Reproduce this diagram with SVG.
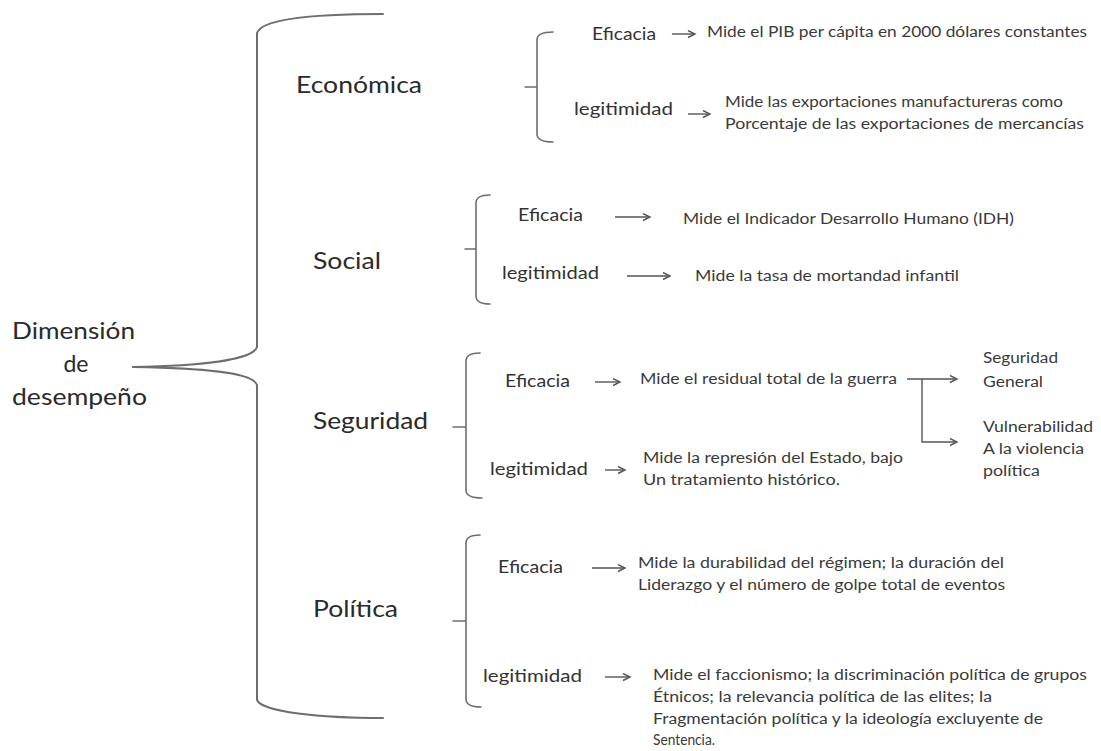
<svg xmlns="http://www.w3.org/2000/svg" width="1101" height="751" viewBox="0 0 1101 751">
<style>
text{font-family:Lato,"Open Sans","Liberation Sans",sans-serif;}
.big{font-size:23px;fill:#2a2a2a;}
.mid{font-size:18px;fill:#333;}
.sm{font-size:14.5px;fill:#3a3a3a;}
.br{fill:none;stroke:#6e6e6e;stroke-width:2;stroke-linecap:round;stroke-linejoin:round;}
.sb{fill:none;stroke:#6e6e6e;stroke-width:1.6;stroke-linecap:round;stroke-linejoin:round;}
.ar{fill:none;stroke:#555;stroke-width:1.4;marker-end:url(#ah);}
</style>
<defs>
<marker id="ah" markerUnits="userSpaceOnUse" markerWidth="10" markerHeight="10" refX="8" refY="4" orient="auto">
<path d="M1,0.5 L8,4 L1,7.5" fill="none" stroke="#555" stroke-width="1.4"/>
</marker>
</defs>
<rect width="1101" height="751" fill="#fff"/>

<g id="root">
<text class="big" x="12" y="339" textLength="123" lengthAdjust="spacingAndGlyphs">Dimensión</text>
<text class="big" x="76" y="372" text-anchor="middle">de</text>
<text class="big" x="12" y="405" textLength="135" lengthAdjust="spacingAndGlyphs">desempeño</text>
</g>

<g id="main-bracket">
<path class="br" d="M383,14 C320,14 262,18 257,33 L257,347 C253,360 200,366 133,367 C200,368 253,372 257,385 L257,700 C262,712 320,718 383,718"/>
<path class="br" d="M133,367 L165,367" stroke-width="2.6"/>
</g>

<g id="economica">
<text class="big" x="296" y="93" textLength="126" lengthAdjust="spacingAndGlyphs">Económica</text>
<path class="sb" d="M553,32 Q537,32 537,40 L537,134 Q537,142 553,142 M525,87 L537,87"/>
<text class="mid" x="592" y="40" textLength="64" lengthAdjust="spacingAndGlyphs">Eficacia</text>
<text class="mid" x="574" y="115" textLength="99" lengthAdjust="spacingAndGlyphs">legitimidad</text>
<text class="sm" x="707" y="37" textLength="380" lengthAdjust="spacingAndGlyphs">Mide el PIB per cápita en 2000 dólares constantes</text>
<text class="sm" x="725" y="107" textLength="338" lengthAdjust="spacingAndGlyphs">Mide las exportaciones manufactureras como</text>
<text class="sm" x="725" y="129" textLength="359" lengthAdjust="spacingAndGlyphs">Porcentaje de las exportaciones de mercancías</text>
</g>

<g id="social">
<text class="big" x="313" y="269" textLength="68" lengthAdjust="spacingAndGlyphs">Social</text>
<path class="sb" d="M490,195 Q476,195 476,203 L476,296 Q476,304 490,304 M465,249 L476,249"/>
<text class="mid" x="518" y="221" textLength="65" lengthAdjust="spacingAndGlyphs">Eficacia</text>
<text class="mid" x="502" y="279" textLength="97" lengthAdjust="spacingAndGlyphs">legitimidad</text>
<text class="sm" x="683" y="224" textLength="331" lengthAdjust="spacingAndGlyphs">Mide el Indicador Desarrollo Humano (IDH)</text>
<text class="sm" x="695" y="281" textLength="264" lengthAdjust="spacingAndGlyphs">Mide la tasa de mortandad  infantil</text>
</g>

<g id="seguridad">
<text class="big" x="313" y="429" textLength="115" lengthAdjust="spacingAndGlyphs">Seguridad</text>
<path class="sb" d="M480,353 Q466,353 466,361 L466,490 Q466,498 482,498 M453,427 L466,427"/>
<text class="mid" x="505" y="387" textLength="65" lengthAdjust="spacingAndGlyphs">Eficacia</text>
<text class="mid" x="490" y="475" textLength="98" lengthAdjust="spacingAndGlyphs">legitimidad</text>
<text class="sm" x="640" y="384" textLength="257" lengthAdjust="spacingAndGlyphs">Mide el residual total de la guerra</text>
<text class="sm" x="643" y="463" textLength="260" lengthAdjust="spacingAndGlyphs">Mide la represión del Estado, bajo</text>
<text class="sm" x="643" y="485" textLength="197" lengthAdjust="spacingAndGlyphs">Un tratamiento histórico.</text>
</g>

<g id="seguridad-general">
<text class="sm" x="983" y="363" textLength="75" lengthAdjust="spacingAndGlyphs">Seguridad</text>
<text class="sm" x="983" y="387" textLength="60" lengthAdjust="spacingAndGlyphs">General</text>
</g>

<g id="vulnerabilidad">
<text class="sm" x="983" y="432" textLength="110" lengthAdjust="spacingAndGlyphs">Vulnerabilidad</text>
<text class="sm" x="983" y="454" textLength="101" lengthAdjust="spacingAndGlyphs">A la violencia</text>
<text class="sm" x="983" y="476" textLength="57" lengthAdjust="spacingAndGlyphs">política</text>
</g>

<g id="politica">
<text class="big" x="313" y="617" textLength="85" lengthAdjust="spacingAndGlyphs">Política</text>
<path class="sb" d="M480,535 Q466,535 466,543 L466,699 Q466,707 481,707 M453,621 L466,621"/>
<text class="mid" x="498" y="573" textLength="65" lengthAdjust="spacingAndGlyphs">Eficacia</text>
<text class="mid" x="483" y="682" textLength="99" lengthAdjust="spacingAndGlyphs">legitimidad</text>
<text class="sm" x="638" y="568" textLength="366" lengthAdjust="spacingAndGlyphs">Mide la durabilidad del régimen; la duración del</text>
<text class="sm" x="638" y="590" textLength="367" lengthAdjust="spacingAndGlyphs">Liderazgo y el número  de golpe total de eventos</text>
<text class="sm" x="653" y="680" textLength="434" lengthAdjust="spacingAndGlyphs">Mide el faccionismo; la discriminación política de grupos</text>
<text class="sm" x="653" y="702" textLength="339" lengthAdjust="spacingAndGlyphs">Étnicos; la relevancia política de las elites; la</text>
<text class="sm" x="653" y="724" textLength="390" lengthAdjust="spacingAndGlyphs">Fragmentación política y la ideología excluyente de</text>
<text class="sm" x="653" y="745" textLength="62" lengthAdjust="spacingAndGlyphs">Sentencia.</text>
</g>

<g id="connectors">
<path class="ar" d="M672,34 L695,34"/>
<path class="ar" d="M688,114 L710,114"/>
<path class="ar" d="M615,217 L650,217"/>
<path class="ar" d="M627,276 L670,276"/>
<path class="ar" d="M595,382 L620,382"/>
<path class="ar" d="M605,470 L625,470"/>
<path class="ar" d="M907,379 L957,379"/>
<path class="ar" d="M922,379 L922,442 L957,442"/>
<path class="ar" d="M592,568 L625,568"/>
<path class="ar" d="M605,677 L630,677"/>
</g>
</svg>
